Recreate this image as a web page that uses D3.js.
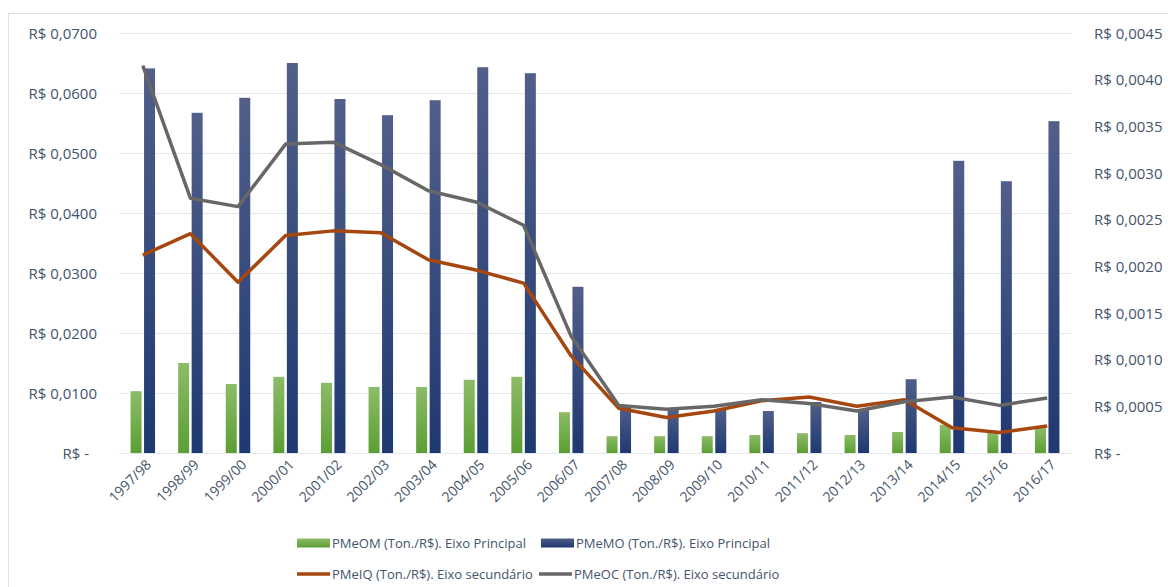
<!DOCTYPE html>
<html>
<head>
<meta charset="utf-8">
<style>
  html, body { margin: 0; padding: 0; background: #fff; }
  text { font-family: 'Open Sans', 'DejaVu Sans', sans-serif; fill: #44546a; }
</style>
</head>
<body>
<svg id="chart" width="1168" height="587"></svg>
<script src="https://d3js.org/d3.v7.min.js"></script>
<script>
var categories = ["1997/98","1998/99","1999/00","2000/01","2001/02","2002/03","2003/04","2004/05","2005/06","2006/07",
                  "2007/08","2008/09","2009/10","2010/11","2011/12","2012/13","2013/14","2014/15","2015/16","2016/17"];
// primary axis (bars)
var pmeom = [0.0103,0.0150,0.0115,0.0127,0.0117,0.0110,0.0110,0.0122,0.0127,0.0068,
             0.0028,0.0028,0.0028,0.0030,0.0033,0.0030,0.0035,0.0047,0.0035,0.0042];
var pmemo = [0.0641,0.0567,0.0592,0.0650,0.0590,0.0563,0.0588,0.0643,0.0633,0.0277,
             0.0080,0.0073,0.0073,0.0070,0.0085,0.0072,0.0123,0.0487,0.0453,0.0553];
// secondary axis (lines)
var pmeiq = [0.00212,0.00235,0.00183,0.00233,0.00238,0.00236,0.00207,0.00196,0.00182,0.00104,
             0.00048,0.00038,0.00045,0.00056,0.00060,0.00050,0.00057,0.00027,0.00022,0.00029];
var pmeoc = [0.00415,0.00273,0.00264,0.00331,0.00333,0.00309,0.00281,0.00269,0.00244,0.00125,
             0.00051,0.00047,0.00050,0.00057,0.00053,0.00045,0.00055,0.00060,0.00051,0.00059];
var leftTicks = [0,0.01,0.02,0.03,0.04,0.05,0.06,0.07];
var rightTicks = [0,0.0005,0.001,0.0015,0.002,0.0025,0.003,0.0035,0.004,0.0045];
var legendItems = [
  {label: "PMeOM (Ton./R$). Eixo Principal", type: "bar", fill: "url(#gGreen)"},
  {label: "PMeMO (Ton./R$). Eixo Principal", type: "bar", fill: "url(#gBlue)"},
  {label: "PMeIQ (Ton./R$). Eixo secundário", type: "line", color: "#a5470f"},
  {label: "PMeOC (Ton./R$). Eixo secundário", type: "line", color: "#676767"}
];

var svg = d3.select("#chart");
var pLeft = 119, pRight = 1071, pTop = 33, pBottom = 453;

var defs = svg.append("defs");
function grad(id, c1, c2) {
  var g = defs.append("linearGradient").attr("id", id)
    .attr("x1", 0).attr("y1", 0).attr("x2", 0).attr("y2", 1);
  g.append("stop").attr("offset", "0%").attr("stop-color", c1);
  g.append("stop").attr("offset", "100%").attr("stop-color", c2);
}
grad("gGreen", "#8cbc68", "#5b9f33");
grad("gBlue", "#515f89", "#1e3971");

// outer border
svg.append("rect").attr("x", 8.5).attr("y", 13.5).attr("width", 1180).attr("height", 600)
  .attr("fill", "none").attr("stroke", "#dcdfe4");

var x = d3.scaleBand().domain(categories).range([pLeft, pRight]);
var yL = d3.scaleLinear().domain([0, 0.07]).range([pBottom, pTop]);
var yR = d3.scaleLinear().domain([0, 0.0045]).range([pBottom, pTop]);

function fmt(v) {
  return v === 0 ? "R$ -" : "R$ " + v.toFixed(4).replace(".", ",");
}

// gridlines
svg.append("g").selectAll("line").data(leftTicks).enter().append("line")
  .attr("x1", pLeft).attr("x2", pRight)
  .attr("y1", function(d) { return yL(d) + 0.5; })
  .attr("y2", function(d) { return yL(d) + 0.5; })
  .attr("stroke", "#e3e6ea").attr("stroke-width", 1.2);

// axes
var axL = svg.append("g").attr("transform", "translate(" + (pLeft - 22) + ",0)")
  .call(d3.axisLeft(yL).tickValues(leftTicks).tickFormat(fmt).tickSize(0).tickPadding(0));
axL.select(".domain").remove();
axL.selectAll("text").style("font-size", "15px").attr("dy", "0.35em")
  .attr("dx", function(d) { return d === 0 ? -8 : 0; });

var axR = svg.append("g").attr("transform", "translate(" + (pRight + 23) + ",0)")
  .call(d3.axisRight(yR).tickValues(rightTicks).tickFormat(fmt).tickSize(0).tickPadding(0));
axR.select(".domain").remove();
axR.selectAll("text").style("font-size", "15px").attr("dy", "0.35em");

var axX = svg.append("g").attr("transform", "translate(0," + pBottom + ")")
  .call(d3.axisBottom(x).tickSize(0));
axX.select(".domain").remove();
axX.selectAll("text").style("font-size", "14px")
  .attr("text-anchor", "end")
  .attr("transform", "translate(6,9) rotate(-45)")
  .attr("dy", "0.35em").attr("y", 0);

// bars
var bw = 11, gap = 2.5;
svg.append("g").selectAll("rect").data(pmeom).enter().append("rect")
  .attr("x", function(d, i) { return x(categories[i]) + x.bandwidth() / 2 - gap / 2 - bw; })
  .attr("y", function(d) { return yL(d); })
  .attr("width", bw)
  .attr("height", function(d) { return pBottom - yL(d); })
  .attr("fill", "url(#gGreen)");
svg.append("g").selectAll("rect").data(pmemo).enter().append("rect")
  .attr("x", function(d, i) { return x(categories[i]) + x.bandwidth() / 2 + gap / 2; })
  .attr("y", function(d) { return yL(d); })
  .attr("width", bw)
  .attr("height", function(d) { return pBottom - yL(d); })
  .attr("fill", "url(#gBlue)");

// lines
var line = d3.line()
  .x(function(d, i) { return x(categories[i]) + x.bandwidth() / 2; })
  .y(function(d) { return yR(d); });
svg.append("path").datum(pmeiq).attr("d", line)
  .attr("fill", "none").attr("stroke", "#a5470f").attr("stroke-width", 3.5).attr("stroke-linejoin", "round");
svg.append("path").datum(pmeoc).attr("d", line)
  .attr("fill", "none").attr("stroke", "#676767").attr("stroke-width", 3.5).attr("stroke-linejoin", "round");

// legend
var legPos = [[297, 543], [541, 543], [297, 574], [539, 574]];
var leg = svg.append("g").selectAll("g").data(legendItems).enter().append("g")
  .attr("transform", function(d, i) { return "translate(" + legPos[i][0] + "," + legPos[i][1] + ")"; });
leg.each(function(d) {
  var g = d3.select(this);
  if (d.type === "bar") {
    g.append("rect").attr("x", 0).attr("y", -4.5).attr("width", 33).attr("height", 9).attr("fill", d.fill);
  } else {
    g.append("line").attr("x1", 0).attr("x2", 33).attr("y1", 0).attr("y2", 0)
      .attr("stroke", d.color).attr("stroke-width", 3.5);
  }
  g.append("text").attr("x", 35).attr("y", 0).attr("dy", "0.35em")
    .style("font-size", "13px").text(d.label);
});
</script>
</body>
</html>
